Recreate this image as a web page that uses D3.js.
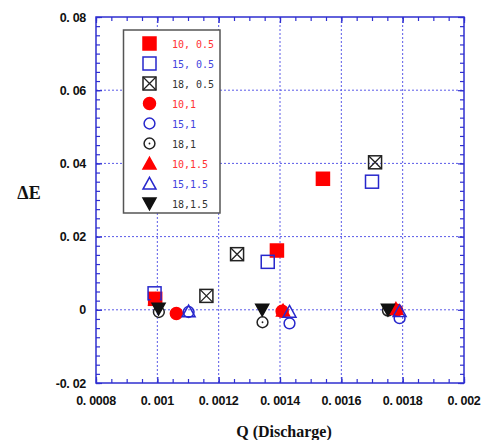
<!DOCTYPE html>
<html><head><meta charset="utf-8">
<script src="https://cdn.jsdelivr.net/npm/d3@7"></script>
<style>body{margin:0;background:#fff}svg{display:block}</style>
</head><body>
<script>
// ---- data ----
const seriesNames = ["10, 0.5","15, 0.5","18, 0.5","10,1","15,1","18,1","10,1.5","15,1.5","18,1.5"];
const seriesColors = ["#ff0000","#2727cc","#222222","#ff0000","#2727cc","#222222","#ff0000","#2727cc","#111111"];
const textColors = ["#ff3333","#4444dd","#333333","#ff3333","#4444dd","#333333","#ff3333","#4444dd","#333333"];
const seriesSymbols = ["squareFill","squareOpen","squareX","circleFill","circleOpen","circleDot","triUpFill","triUpOpen","triDownFill"];
const q_10_05 = [0.000993, 0.00139, 0.00154];
const e_10_05 = [0.0030, 0.0162, 0.0358];
const q_15_05 = [0.000991, 0.00136, 0.00170];
const e_15_05 = [0.0045, 0.0131, 0.0350];
const q_18_05 = [0.00116, 0.00126, 0.00171];
const e_18_05 = [0.0038, 0.0152, 0.0403];
const q_10_1 = [0.001062, 0.001407, 0.00178];
const e_10_1 = [-0.0010, -0.0004, -0.0001];
const q_15_1 = [0.001102, 0.001431, 0.00179];
const e_15_1 = [-0.0006, -0.0037, -0.0023];
const q_18_1 = [0.001005, 0.001343, 0.001752];
const e_18_1 = [-0.0006, -0.0034, -0.0002];
const q_10_15 = [0.000993, 0.00141, 0.001778];
const e_10_15 = [0.0029, -0.0002, 0.0003];
const q_15_15 = [0.001102, 0.001431, 0.00179];
const e_15_15 = [-0.0004, -0.0005, -0.0003];
const q_18_15 = [0.001004, 0.001342, 0.001752];
const e_18_15 = [0.0003, 0.0000, 0.0000];
const seriesQ = [q_10_05,q_15_05,q_18_05,q_10_1,q_15_1,q_18_1,q_10_15,q_15_15,q_18_15];
const seriesE = [e_10_05,e_15_05,e_18_05,e_10_1,e_15_1,e_18_1,e_10_15,e_15_15,e_18_15];
const xTicks = [0.0008,0.001,0.0012,0.0014,0.0016,0.0018,0.002];
const xTickLabels = ["0. 0008","0. 001","0. 0012","0. 0014","0. 0016","0. 0018","0. 002"];
const yTicks = [-0.02,0,0.02,0.04,0.06,0.08];
const yTickLabels = ["-0. 02","0","0. 02","0. 04","0. 06","0. 08"];
const xLabel = "Q (Discharge)";
const yLabel = "ΔE";

// ---- layout ----
const W = 483, H = 440;
const L = 96, R = 464, T = 17, B = 383;
const svg = d3.select("body").append("svg").attr("width",W).attr("height",H);
const x = d3.scaleLinear().domain([0.0008,0.002]).range([L,R]);
const y = d3.scaleLinear().domain([-0.02,0.08]).range([B,T]);
const blue = "#2f2fd0";

// grid
const gx = xTicks.slice(1,-1), gy = yTicks.slice(1,-1);
svg.append("g").selectAll("line").data(gx).join("line")
  .attr("x1",d=>x(d)).attr("x2",d=>x(d)).attr("y1",T).attr("y2",B)
  .attr("stroke","#5a5ae8").attr("stroke-width",1).attr("stroke-dasharray","2,2");
svg.append("g").selectAll("line").data(gy).join("line")
  .attr("y1",d=>y(d)).attr("y2",d=>y(d)).attr("x1",L).attr("x2",R)
  .attr("stroke","#5a5ae8").attr("stroke-width",1).attr("stroke-dasharray","2,2");

// axes with inward ticks (major + minor), mirrored on top/right
const xMinor = d3.range(0,25).map(i=>0.0008+i*0.00005);
const yMinor = d3.range(0,41).map(i=>-0.02+i*0.0025);
function addAxis(axis, tr){ const g = svg.append("g").attr("transform",tr).call(axis);
  g.select(".domain").remove(); g.selectAll("text").remove();
  g.selectAll("line").attr("stroke",blue).attr("stroke-width",1.2); return g; }
addAxis(d3.axisBottom(x).tickValues(xMinor).tickSize(-4), `translate(0,${B})`);
addAxis(d3.axisTop(x).tickValues(xMinor).tickSize(-4), `translate(0,${T})`);
addAxis(d3.axisLeft(y).tickValues(yMinor).tickSize(-4), `translate(${L},0)`);
addAxis(d3.axisRight(y).tickValues(yMinor).tickSize(-4), `translate(${R},0)`);
addAxis(d3.axisBottom(x).tickValues(xTicks).tickSize(-6), `translate(0,${B})`);
addAxis(d3.axisTop(x).tickValues(xTicks).tickSize(-6), `translate(0,${T})`);
addAxis(d3.axisLeft(y).tickValues(yTicks).tickSize(-6), `translate(${L},0)`);
addAxis(d3.axisRight(y).tickValues(yTicks).tickSize(-6), `translate(${R},0)`);
svg.append("rect").attr("x",L).attr("y",T).attr("width",R-L).attr("height",B-T)
  .attr("fill","none").attr("stroke",blue).attr("stroke-width",1.5);

// tick labels
const tickFont = "'Liberation Sans', Arial, sans-serif";
svg.append("g").selectAll("text").data(xTicks).join("text")
  .attr("x",d=>x(d)).attr("y",B+22).attr("text-anchor","middle")
  .attr("font-family",tickFont).attr("font-weight","bold").attr("font-size",12.5)
  .attr("fill","#111").attr("letter-spacing","-0.3")
  .text((d,i)=>xTickLabels[i]);
svg.append("g").selectAll("text").data(yTicks).join("text")
  .attr("x",L-10).attr("y",d=>y(d)+4.5).attr("text-anchor","end")
  .attr("font-family",tickFont).attr("font-weight","bold").attr("font-size",12.5)
  .attr("fill","#111").attr("letter-spacing","-0.3")
  .text((d,i)=>yTickLabels[i]);

// axis titles
svg.append("text").attr("x",284).attr("y",437).attr("text-anchor","middle")
  .attr("font-family","'Liberation Serif','Times New Roman',serif").attr("font-weight","bold")
  .attr("font-size",16).attr("fill","#111").text(xLabel);
svg.append("text").attr("x",29).attr("y",199).attr("text-anchor","middle")
  .attr("font-family","'Liberation Serif','Times New Roman',serif").attr("font-weight","bold")
  .attr("font-size",18).attr("fill","#111").text(yLabel);

// symbols
function drawSymbol(g, type, cx, cy, col){
  const s = 6.5;
  if(type.startsWith("square")){
    g.append("rect").attr("x",cx-s).attr("y",cy-s).attr("width",2*s).attr("height",2*s)
      .attr("fill", type==="squareFill"?col:"none").attr("stroke",col).attr("stroke-width",1.5);
    if(type==="squareX"){
      g.append("path").attr("d",`M${cx-s},${cy-s}L${cx+s},${cy+s}M${cx+s},${cy-s}L${cx-s},${cy+s}`)
        .attr("stroke",col).attr("stroke-width",1.3);
    }
  } else if(type.startsWith("circle")){
    g.append("circle").attr("cx",cx).attr("cy",cy).attr("r",type==="circleFill"?6:5.4)
      .attr("fill", type==="circleFill"?col:"none").attr("stroke",col).attr("stroke-width",1.5);
    if(type==="circleDot") g.append("circle").attr("cx",cx).attr("cy",cy).attr("r",0.9).attr("fill",col);
  } else {
    const h = 6.5;
    const d = type==="triDownFill"
      ? `M${cx-h},${cy-h*0.85}L${cx+h},${cy-h*0.85}L${cx},${cy+h*0.95}Z`
      : `M${cx},${cy-h*0.95}L${cx+h},${cy+h*0.85}L${cx-h},${cy+h*0.85}Z`;
    g.append("path").attr("d",d).attr("fill", type.endsWith("Fill")?col:"none")
      .attr("stroke",col).attr("stroke-width",1.5).attr("stroke-linejoin","miter");
  }
}

// data points
const pts = svg.append("g");
seriesNames.forEach((n,i)=>{
  seriesQ[i].forEach((q,j)=>{
    drawSymbol(pts.append("g"), seriesSymbols[i], x(q), y(seriesE[i][j]), seriesColors[i]);
  });
});

// legend
const lg = svg.append("g");
lg.append("rect").attr("x",123.5).attr("y",30).attr("width",96.5).attr("height",183)
  .attr("fill","#fff").attr("stroke","#555").attr("stroke-width",1.5);
seriesNames.forEach((n,i)=>{
  const cy = 43.5 + i*20;
  drawSymbol(lg.append("g"), seriesSymbols[i], 149.5, cy, seriesColors[i]);
  lg.append("text").attr("x",172).attr("y",cy+4).attr("font-family","'DejaVu Sans Mono',monospace")
    .attr("font-size",10).attr("fill",textColors[i]).text(n);
});
</script>
</body></html>
